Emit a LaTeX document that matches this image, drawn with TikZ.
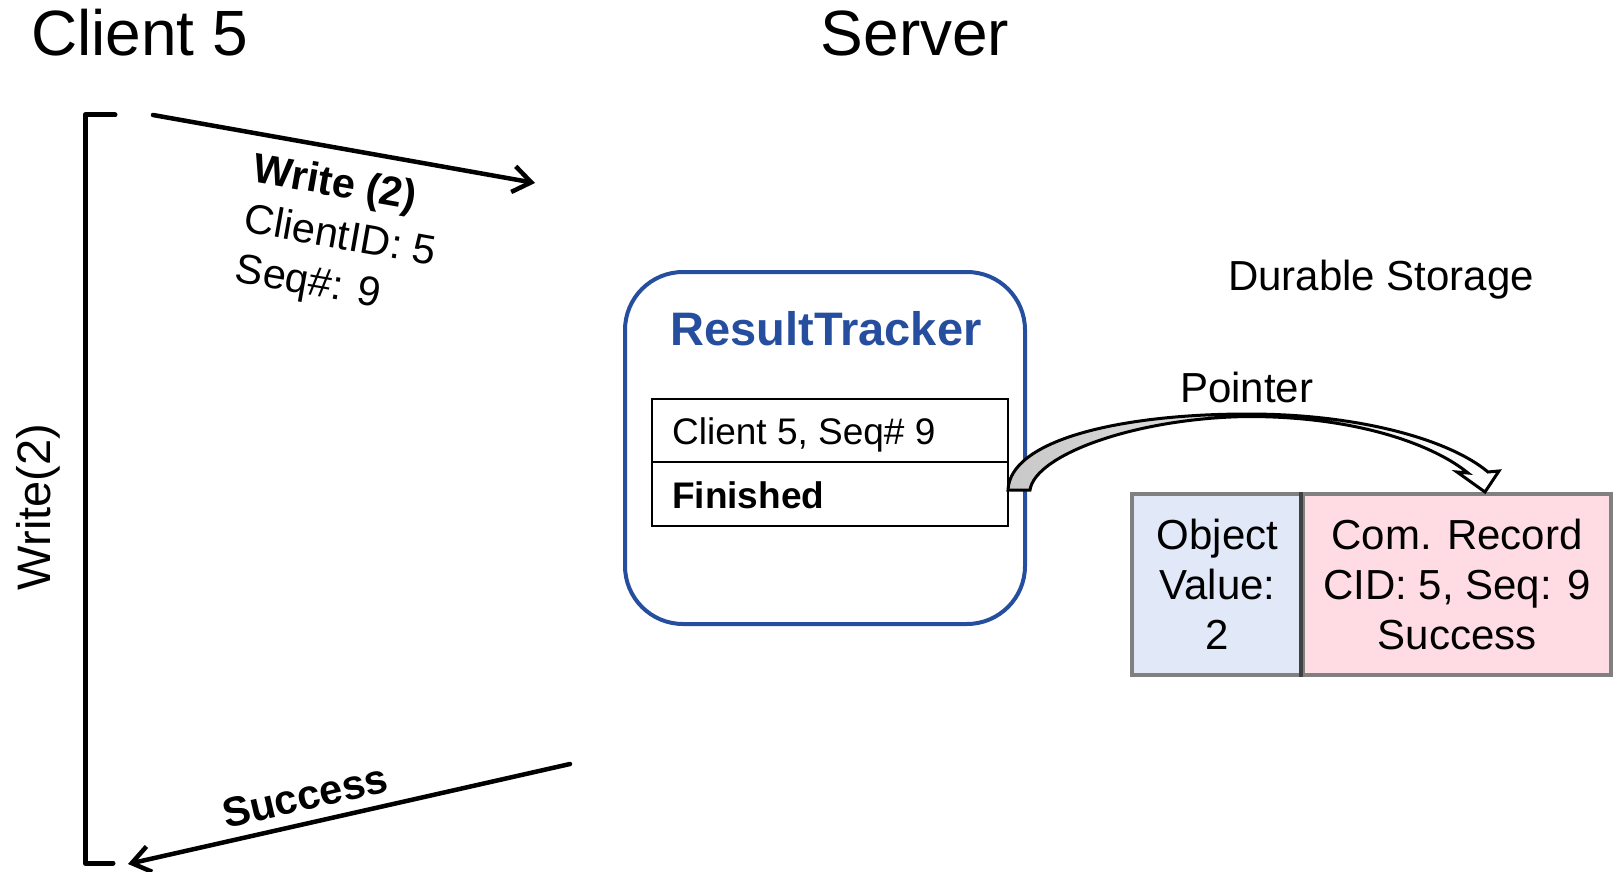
\documentclass[tikz,border=0pt]{standalone}
\usepackage{fontspec}
\setmainfont{Liberation Sans}
\usetikzlibrary{arrows.meta}
\definecolor{trblue}{RGB}{38,78,158}
\definecolor{objfill}{RGB}{225,233,248}
\definecolor{recfill}{RGB}{255,220,227}
\definecolor{boxgray}{RGB}{128,128,128}
\definecolor{divgray}{RGB}{64,64,64}
\definecolor{ptrgray}{RGB}{200,200,200}
\begin{document}
\begin{tikzpicture}[x=1pt,y=-1pt,
  plain/.style={inner sep=0pt},
  msg/.style={line width=4.5pt, line cap=round, -{Straight Barb[length=18pt, width=26pt]}},
  cell/.style={draw=black, line width=2pt, minimum width=356pt, inner sep=0pt},
  store/.style={draw=boxgray, line width=4pt, minimum height=181pt, inner sep=0pt,
    align=center, font=\fontsize{42}{50}\selectfont},
]
\useasboundingbox (0,0) rectangle (1618,872);

% titles
\node[plain, anchor=base west, font=\fontsize{64}{70}\selectfont] (client) at (31,56) {Client 5};
\node[plain, anchor=base, font=\fontsize{64}{70}\selectfont] (server) at (915,56) {Server};

% bracket
\draw[line width=5pt, line cap=round, line join=round] (115,115) -- (85,115) -- (85,863) -- (113,863);
\node[plain, rotate=90, anchor=base, font=\fontsize{47}{50}\selectfont] (wlabel) at (50,507) {Write(2)};

% write message
\coordinate (wstart) at (153,115);
\coordinate (wend) at (535,183);
\draw[msg] (wstart) -- (wend);
\node[plain, rotate=-10, align=left, font=\fontsize{41.5}{51}\selectfont] (wmsg) at (340,238)
  {\textbf{Write (2)}\\ClientID: 5\\Seq\#: 9};

% success message
\coordinate (sstart) at (570,764);
\coordinate (send) at (128,864);
\draw[msg] (sstart) -- (send);
\node[plain, rotate=13, font=\bfseries\fontsize{41.5}{45}\selectfont] (smsg) at (305,796) {Success};

% ResultTracker
\node[draw=trblue, line width=4pt, rounded corners=58pt, minimum width=400pt, minimum height=352pt, inner sep=0pt] (rt) at (825,448) {};
\node[plain, anchor=base, text=trblue, font=\bfseries\fontsize{47}{50}\selectfont] (rttitle) at (826,345) {ResultTracker};
\node[cell, minimum height=63pt] (row1) at (830,430.5) {};
\node[cell, minimum height=64pt] (row2) at (830,494) {};
\node[plain, anchor=base west, font=\fontsize{37}{40}\selectfont] (row1txt) at (672,444) {Client 5, Seq\# 9};
\node[plain, anchor=base west, font=\bfseries\fontsize{37}{40}\selectfont] (row2txt) at (672,508) {Finished};

% storage
\node[plain, anchor=base west, font=\fontsize{42}{50}\selectfont] (dur) at (1228,290) {Durable Storage};
\node[store, fill=objfill, minimum width=171pt] (obj) at (1217.5,584.5) {Object\\Value:\\2};
\node[store, fill=recfill, minimum width=308pt] (rec) at (1457,584.5) {Com. Record\\CID: 5, Seq: 9\\Success};
\draw[divgray, line width=4pt] (rec.north west) -- (rec.south west);

% pointer
\node[plain, anchor=base west, font=\fontsize{42}{50}\selectfont] (plabel) at (1180,402) {Pointer};
\shadedraw[left color=ptrgray, right color=white, draw=black, line width=3pt, line join=miter]
  (1008,490) .. controls (1010,440) and (1120,414) .. (1248,414)
  .. controls (1360,414) and (1450,440) .. (1488,472)
  -- (1499,471) -- (1485,492) -- (1457,472) -- (1468,473)
  .. controls (1435,446) and (1360,416.5) .. (1248,416.5)
  .. controls (1135,418) and (1035,455) .. (1030,490) -- cycle;
\end{tikzpicture}
\end{document}
